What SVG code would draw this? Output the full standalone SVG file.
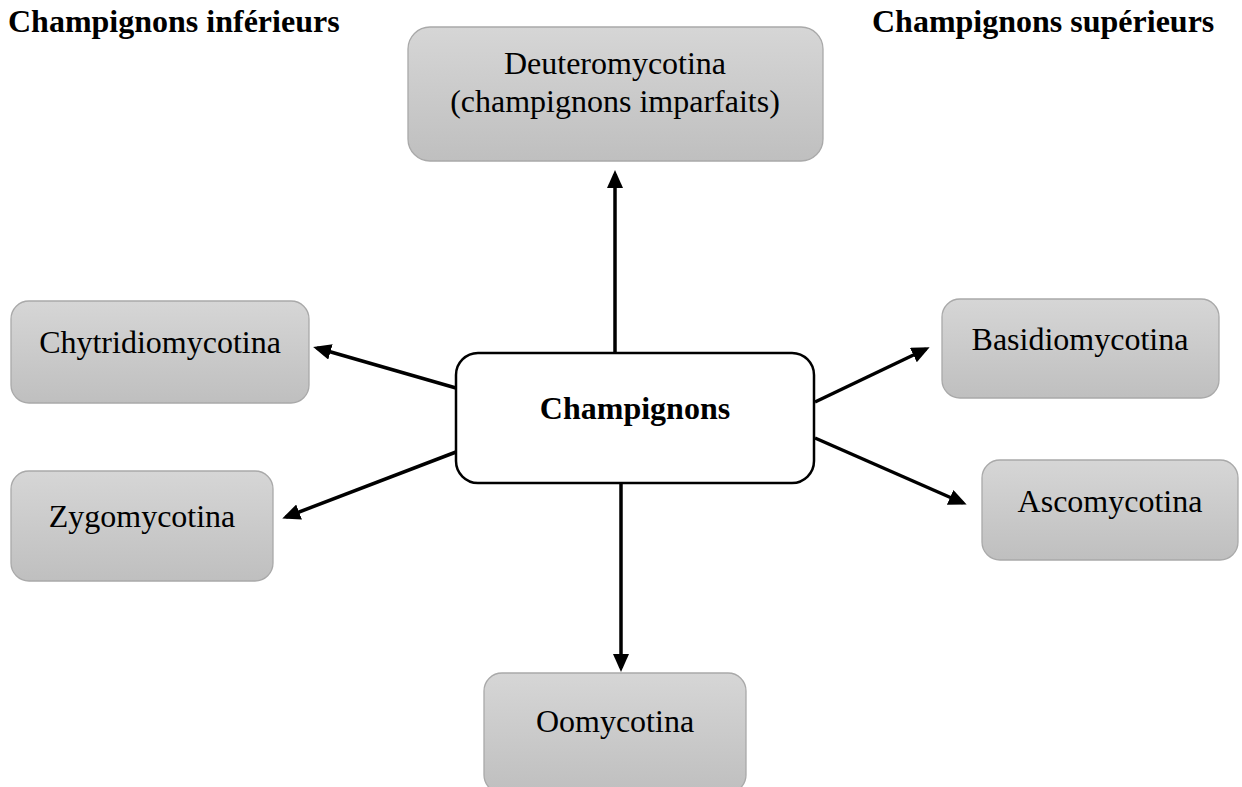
<svg xmlns="http://www.w3.org/2000/svg" width="1242" height="787" viewBox="0 0 1242 787">
<style>
.box{fill:url(#g);stroke:#a9a9a9;stroke-width:1.3}
.main{fill:#fff;stroke:#000;stroke-width:2.5}
.t{font-family:"Liberation Serif","Times New Roman",serif;font-size:32px;fill:#000;text-anchor:middle}
.b{font-weight:bold}
.c{stroke:#000;stroke-width:3.5;fill:none;marker-end:url(#a)}
</style>
<defs>
<linearGradient id="g" x1="0" y1="0" x2="0" y2="1">
<stop offset="0" stop-color="#d6d6d6"/>
<stop offset="1" stop-color="#bfbfbf"/>
</linearGradient>
<marker id="a" markerUnits="userSpaceOnUse" markerWidth="18" markerHeight="16" viewBox="0 0 18 16" refX="14" refY="8" orient="auto">
<path d="M0,0 L18,8 L0,16 z" fill="#000"/>
</marker>
</defs>
<rect width="1242" height="787" fill="#fff"/>
<g id="headers">
<text class="t b" x="8" y="32" style="text-anchor:start">Champignons inférieurs</text>
<text class="t b" x="872" y="32" style="text-anchor:start">Champignons supérieurs</text>
</g>
<g id="connectors">
<line class="c" x1="615" y1="357" x2="615" y2="174"/>
<line class="c" x1="621" y1="483" x2="621" y2="668"/>
<line class="c" x1="456" y1="388" x2="317" y2="348"/>
<line class="c" x1="456" y1="452" x2="286" y2="517"/>
<line class="c" x1="815" y1="402" x2="926" y2="349"/>
<line class="c" x1="815" y1="438" x2="963" y2="503"/>
</g>
<g id="deuteromycotina">
<rect class="box" x="408" y="27" width="415" height="134" rx="22"/>
<text class="t" x="615" y="74">Deuteromycotina</text>
<text class="t" x="615" y="112">(champignons imparfaits)</text>
</g>
<g id="champignons">
<rect class="main" x="456" y="353" width="358" height="130" rx="22"/>
<text class="t b" x="635" y="419">Champignons</text>
</g>
<g id="chytridiomycotina">
<rect class="box" x="11" y="301" width="298" height="102" rx="18"/>
<text class="t" x="160" y="353">Chytridiomycotina</text>
</g>
<g id="zygomycotina">
<rect class="box" x="11" y="471" width="262" height="110" rx="18"/>
<text class="t" x="142" y="527">Zygomycotina</text>
</g>
<g id="basidiomycotina">
<rect class="box" x="942" y="299" width="277" height="99" rx="18"/>
<text class="t" x="1080" y="350">Basidiomycotina</text>
</g>
<g id="ascomycotina">
<rect class="box" x="982" y="460" width="256" height="100" rx="18"/>
<text class="t" x="1110" y="512">Ascomycotina</text>
</g>
<g id="oomycotina">
<rect class="box" x="484" y="673" width="262" height="120" rx="18"/>
<text class="t" x="615" y="732">Oomycotina</text>
</g>
</svg>
